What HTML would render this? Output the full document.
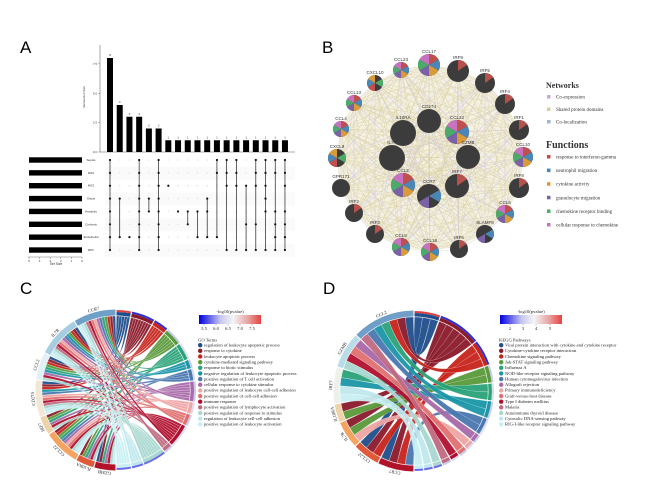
<!DOCTYPE html>
<html><head><meta charset="utf-8"><style>
html,body{margin:0;padding:0;background:#fff;width:669px;height:493px;overflow:hidden}
svg{display:block}
.pl{font-family:"Liberation Sans",sans-serif;font-size:17px}
.sm{font-family:"Liberation Sans",sans-serif;font-size:3px;fill:#333}
.nd{font-family:"Liberation Sans",sans-serif;font-size:4.5px;fill:#333}
.lg{font-family:"Liberation Serif",serif;font-size:5px;fill:#333}
.lt{font-family:"Liberation Serif",serif;font-size:4.6px;fill:#222}
</style></head><body>
<svg id="fig" width="669" height="493" viewBox="0 0 669 493" xmlns="http://www.w3.org/2000/svg">
<rect width="669" height="493" fill="#fff"/>
<text class="pl" x="20" y="53">A</text>
<text class="pl" x="322" y="53">B</text>
<text class="pl" x="20" y="294">C</text>
<text class="pl" x="323" y="294">D</text>
<g id="pa"></g>
<g id="pb"></g>
<g id="pc"></g>
<g id="pd"></g>
</svg>
<script>
const NS='http://www.w3.org/2000/svg';
function mk(p,t,a,txt){const e=document.createElementNS(NS,t);for(const k in a)e.setAttribute(k,a[k]);if(txt!==undefined)e.textContent=txt;p.appendChild(e);return e;}

// ---------- Panel A data ----------
const setNames=["Sepsis","MS2","MS3","Shock","Hepatitis","Cirrhosis","Endothelial","RPF"];
const setSizes=[5,5,5,5,5,5,5,5];
const interSizes=[8,4,3,3,2,2,1,1,1,1,1,1,1,1,1,1,1,1,1];
const interSets=[[0,1,2,3,4,5,6,7],[3,6],[6],[0,1,2,3,4,5,6,7],[3,4],[0,1,2,3,4,5,6,7],[2],[4],[4,5],[4,6],[3,4,6],[0,1,6],[0,1,2,7],[0,1,2,7],[2,5,7],[0,1,2,5,7],[0,1,2,3,4,7],[0,1,4,5,6,7],[0,1,2,4,5,6,7]];
const yTicksA=[0,2.5,5,7.5];

const pa=document.getElementById('pa');
const bx0=110,bstep=9.72,base=152,ppu=11.75;
const xA=i=>bx0+i*bstep, yA=v=>base-v*ppu;
const rowY=i=>160+i*12.86;
mk(pa,'line',{x1:100,y1:45,x2:100,y2:base,stroke:'#555','stroke-width':0.5});
mk(pa,'line',{x1:100,y1:base,x2:295,y2:base,stroke:'#555','stroke-width':0.5});
yTicksA.forEach(t=>{mk(pa,'line',{x1:98,y1:yA(t),x2:100,y2:yA(t),stroke:'#555','stroke-width':0.4});
 const e=mk(pa,'text',{class:'sm',x:97,y:yA(t)+1,'text-anchor':'end'},t.toFixed(1));});
const yt=mk(pa,'text',{class:'sm',x:85,y:97,'text-anchor':'middle',transform:'rotate(-90 85 97)'},'Intersection Size');

interSizes.forEach((v,i)=>{
 const r=mk(pa,'rect',{x:xA(i)-3,y:yA(v),width:6,height:v*ppu,fill:'#000'});
 
 mk(pa,'text',{class:'sm',x:xA(i),y:yA(v)-2,'text-anchor':'middle'},String(v));
});
setNames.forEach((n,i)=>{
 if(i%2===1)mk(pa,'rect',{x:105,y:rowY(i)-6,width:190,height:12.8,fill:'#fafafa'});
 const w=setSizes[i]/5*53;
 const b=mk(pa,'rect',{x:82-w,y:rowY(i)-2.7,width:w,height:5.4,fill:'#000'});
 
 mk(pa,'text',{class:'sm',x:91,y:rowY(i)+1,'text-anchor':'middle'},n);
 interSizes.forEach((v,j)=>mk(pa,'circle',{cx:xA(j),cy:rowY(i),r:0.8,fill:'#e4e4e4'}));
});
interSets.forEach((s,j)=>{
 const mn=Math.min(...s),mx=Math.max(...s);
 if(s.length>1)mk(pa,'line',{x1:xA(j),y1:rowY(mn),x2:xA(j),y2:rowY(mx),stroke:'#222','stroke-width':0.7});
 s.forEach(i=>{const c=mk(pa,'circle',{cx:xA(j),cy:rowY(i),r:1.1,fill:'#111'});
  });
});
mk(pa,'line',{x1:28,y1:257,x2:82,y2:257,stroke:'#555','stroke-width':0.4});
[0,1,2,3,4,5].forEach(t=>{const x=82-t/5*53;mk(pa,'line',{x1:x,y1:257,x2:x,y2:259,stroke:'#555','stroke-width':0.4});mk(pa,'text',{class:'sm',x:x,y:262,'text-anchor':'middle'},String(5-t===5?t:t));});
const st=mk(pa,'text',{class:'sm',x:56,y:265,'text-anchor':'middle',style:'font-size:3.4px'},'Set Size');


// ---------- Panel B ----------
const nodeNames=["CCL17","IRF9","IRF5","IRF4","IRF1","CCL10","IRF8","CCL5","SLAMF8","IRF6","CCL18","CCL8","IRF3","IRF2","GPR171","CXCL9","CCL4","CCL13","CXCL10","CCL23","CD274","IL10RA","CCL22","IL7R","GZMB","CCL2","IRF7","CCR7"];
const nodeX=[429,458,485,505,519,523,519,505,485,459,430,401,375,354,341,337,341,354,375,401,429,403,457,392,468,403,457,429];
const nodeY=[65,71,83,104,130,157,188,214,234,249,252,247,234,213,188,158,129,103,83,70,121,133,132,158,157,185,186,196];
const nodeR=[11,11,10,10,10,10,10,9,9,9,9,9,9,9,9,9,8,8,8,8,12,13,12,13,12,12,12,12];
const nodeType=["pie","irf","irf","irf","irf","pie","irf","pie","part","irf","pie","pie","irf","irf","dark","half","pie","pie","half","pie","dark","dark","pie","dark","dark","pie","irf","part"];
const funcColors=["#c0504d","#4a86b6","#d99a3a","#7b62a6","#4caa6a","#c773c0"];
const pb=document.getElementById('pb');
mk(pb,'circle',{cx:430,cy:158,r:92,fill:'#f4f1e2'});
for(let i=0;i<nodeNames.length;i++)for(let j=i+1;j<nodeNames.length;j++){
 if((i*7+j*3)%4===0)continue;
 mk(pb,'line',{x1:nodeX[i],y1:nodeY[i],x2:nodeX[j],y2:nodeY[j],stroke:((i+j)%5===0)?'#cfc6e6':'#ddd3a8','stroke-width':0.6,opacity:0.8});
}
function wedge(cx,cy,r,a0,a1){const p=a=>[cx+r*Math.sin(a*Math.PI/180),cy-r*Math.cos(a*Math.PI/180)];const s=p(a0),e=p(a1);return `M${cx},${cy}L${s[0]},${s[1]}A${r},${r} 0 ${a1-a0>180?1:0} 1 ${e[0]},${e[1]}Z`;}
nodeNames.forEach((n,i)=>{
 const g=mk(pb,'g',{});
 
 const x=nodeX[i],y=nodeY[i],r=nodeR[i],t=nodeType[i];
 mk(g,'circle',{cx:x,cy:y,r:r,fill:'#3c3c3c'});
 if(t==='pie'){funcColors.forEach((c,k)=>mk(g,'path',{d:wedge(x,y,r,k*60,(k+1)*60),fill:c}));}
 else if(t==='half'){[0,1,2,4].forEach(k=>mk(g,'path',{d:wedge(x,y,r,k*60+180,(k+1)*60+180),fill:funcColors[k]}));}
 else if(t==='part'){[1,3].forEach(k=>mk(g,'path',{d:wedge(x,y,r,k*60,(k+1)*60),fill:funcColors[k]}));}
 else if(t==='irf'){mk(g,'path',{d:wedge(x,y,r,0,55),fill:'#b8504c'});}
 else {mk(g,'circle',{cx:x,cy:y,r:r-0.5,fill:'none',stroke:'#555','stroke-width':0.3,'stroke-dasharray':'0.6 0.6'});}
 mk(pb,'text',{class:'nd',x:x,y:y-r-1.2,'text-anchor':'middle'},n);
});
const netLbl=["Co-expression","Shared protein domains","Co-localization"],netCol=["#c9a6d6","#d7cf9b","#9fb5d3"];
const funcLbl=["response to interferon-gamma","neutrophil migration","cytokine activity","granulocyte migration","chemokine receptor binding","cellular response to chemokine"];
mk(pb,'text',{x:546,y:88,style:'font-family:"Liberation Serif",serif;font-size:8px;font-weight:bold;fill:#333'},'Networks');
netLbl.forEach((l,k)=>{const y=98+k*12.5;const g=mk(pb,'g',{});
 mk(g,'rect',{x:547,y:y-3,width:3.5,height:3.5,fill:netCol[k]});mk(g,'text',{class:'lg',x:556,y:y+0.5},l);});
mk(pb,'text',{x:546,y:148,style:'font-family:"Liberation Serif",serif;font-size:10px;font-weight:bold;fill:#333'},'Functions');
funcLbl.forEach((l,k)=>{const y=158+k*13.6;const g=mk(pb,'g',{});
 mk(g,'rect',{x:547,y:y-3,width:3.5,height:3.5,fill:funcColors[k]});mk(g,'text',{class:'lg',x:556,y:y+0.5},l);});

// ---------- Chord data ----------
const termColors=["#1f4e8c","#8b1a2b","#c8241c","#5a9a3a","#2aa37a","#1b96a8","#4a78b0","#a86aa8","#f0a5a5","#e07070","#b01030","#c06a80","#a8d8d0","#bfe8ee","#c8f0f4"];
const goTerms=["regulation of leukocyte apoptotic process","response to cytokine","leukocyte apoptotic process","cytokine-mediated signaling pathway","response to biotic stimulus","negative regulation of leukocyte apoptotic process","positive regulation of T cell activation","cellular response to cytokine stimulus","positive regulation of leukocyte cell-cell adhesion","positive regulation of cell-cell adhesion","immune response","positive regulation of lymphocyte activation","positive regulation of response to stimulus","regulation of leukocyte cell-cell adhesion","positive regulation of leukocyte activation"];
const goGenes=["GZMB","IL10RA","CCL22","IRF7","CD274","CCL2","IL7R","CCR7"];
const goGeneColors=["#b0132a","#e05a3a","#f4a460","#f0d2a8","#f2e6d6","#e0f0f4","#a6cde0","#6fa0c8"];
const goMatrix=[
[1,1,0,0,1,0,0,1,0,0,1,0,1,0,1],
[0,1,0,1,1,0,0,1,0,0,1,0,1,0,0],
[0,1,1,1,1,0,1,1,1,1,1,0,1,1,1],
[0,1,0,1,1,0,0,1,0,0,1,0,1,0,0],
[1,1,1,0,0,1,1,0,1,1,1,1,1,1,1],
[1,1,1,1,1,1,0,1,0,0,1,0,1,0,0],
[1,1,1,1,0,1,1,1,1,1,1,1,1,1,1],
[1,1,1,1,1,0,1,1,1,1,1,1,1,1,1]];
const keggTerms=["Viral protein interaction with cytokine and cytokine receptor","Cytokine-cytokine receptor interaction","Chemokine signaling pathway","Jak-STAT signaling pathway","Influenza A","NOD-like receptor signaling pathway","Human cytomegalovirus infection","Allograft rejection","Primary immunodeficiency","Graft-versus-host disease","Type I diabetes mellitus","Malaria","Autoimmune thyroid disease","Cytosolic DNA-sensing pathway","RIG-I-like receptor signaling pathway"];
const keggGenes=["CCR7","CCL22","IL7R","IL10RA","IRF7","GZMB","CCL2"];
const keggGeneColors=["#b0132a","#e05a3a","#f4a460","#f0d2a8","#eef0ea","#b8dde8","#6f9fc8"];
const keggMatrix=[
[1,1,1,0,0,0,1,0,0,0,0,0,0,0,0],
[1,1,1,0,0,0,0,0,0,0,0,0,0,0,0],
[0,1,0,1,0,0,0,0,1,0,0,0,0,0,0],
[0,1,0,1,0,0,0,0,0,0,0,0,0,0,0],
[0,0,0,0,1,1,0,0,0,0,0,0,0,1,1],
[0,0,0,0,0,0,0,1,0,1,1,0,1,0,0],
[1,1,1,0,1,1,1,0,0,0,0,1,0,0,0]];

function chord(g,cx,cy,r,genes,gcol,terms,matrix,bar,barTicks,legTitle,lx,ly){
 const P=(a,rr)=>[cx+rr*Math.sin(a*Math.PI/180),cy-rr*Math.cos(a*Math.PI/180)];
 const gap=0.8;
 const tCount=terms.map((t,j)=>matrix.reduce((s,row)=>s+row[j],0));
 const gCount=genes.map((gn,i)=>matrix[i].reduce((s,v)=>s+v,0));
 const tot=tCount.reduce((a,b)=>a+b,0);
 const tu=(180-gap*terms.length)/tot, gu=(180-gap*genes.length)/tot;
 const tStart=[],gStart=[];let a=gap/2;
 tCount.forEach((c,j)=>{tStart.push(a);a+=c*tu+gap;});
 a=180+gap/2;gCount.forEach((c,i)=>{gStart.push(a);a+=c*gu+gap;});
 const tPos=tStart.slice(),gPos=gStart.slice();
 const links=[];
 matrix.forEach((row,i)=>row.forEach((v,j)=>{if(v)links.push([i,j]);}));
 // order on gene side by term reversed for less crossing
 const ri=r-4;
 const segs=[];
 for(let i=0;i<genes.length;i++){for(let j=terms.length-1;j>=0;j--){if(matrix[i][j]){segs.push([i,j,gPos[i]]);gPos[i]+=gu;}}}
 segs.forEach(([i,j,g0])=>{
  const t0=tPos[j];tPos[j]+=tu;
  const g1=g0+gu,t1=t0+tu;
  const A=P(g0,ri),B=P(g1,ri),C=P(t0,ri),D=P(t1,ri);
  const d=`M${A}A${ri},${ri} 0 0 1 ${B}Q${cx},${cy} ${C}A${ri},${ri} 0 0 1 ${D}Q${cx},${cy} ${A}Z`;
  const p=mk(g,'path',{d:d,fill:termColors[j],stroke:'#fff','stroke-width':0.25,opacity:0.95});
  
 });
 const arc=(a0,a1,r0,r1,fill,name)=>{const A=P(a0,r1),B=P(a1,r1),C=P(a1,r0),D=P(a0,r0);
  const e=mk(g,'path',{d:`M${A}A${r1},${r1} 0 ${a1-a0>180?1:0} 1 ${B}L${C}A${r0},${r0} 0 ${a1-a0>180?1:0} 0 ${D}Z`,fill:fill});
  };
 terms.forEach((t,j)=>{arc(tStart[j],tStart[j]+tCount[j]*tu,r-3.5,r,termColors[j],'term-arc');});
 // pvalue ring on term side (gradient-ish)
 const pr=['#3f4fe0','#c8c8f0','#f0f0f8','#e8a0a0','#e06060'];
 terms.forEach((t,j)=>{const c=j<3?'#2f2fd0':(j>11?'#6a6ae8':(j%2?'#c9c9ee':'#dcdcf2'));
  arc(tStart[j],tStart[j]+tCount[j]*tu,r,r+2,j===0?'#e04040':c,'pvalue-arc');});
 genes.forEach((gn,i)=>{const a0=gStart[i],a1=gStart[i]+gCount[i]*gu;
  arc(a0,a1,r-3.5,r+2.5,gcol[i],'gene-arc');
  const am=(a0+a1)/2,p=P(am,r+5);let rot=am-360+(am>270?0:0);
  let rr=am+180; const tx=mk(g,'text',{class:'lt',x:p[0],y:p[1],'text-anchor':'middle','dominant-baseline':'middle',transform:`rotate(${am<270?am-180+180:am} ${p[0]} ${p[1]})`},gn);
  
 });
 // colorbar
 const gid='grad'+lx;
 const defs=mk(g,'defs',{});const lg=mk(defs,'linearGradient',{id:gid,x1:0,x2:1,y1:0,y2:0});
 [['0','#0000e0'],['0.35','#c8c8f0'],['0.55','#f4f4f4'],['0.8','#e8a0a0'],['1','#e84040']].forEach(([o,c])=>mk(lg,'stop',{offset:o,'stop-color':c}));
 mk(g,'text',{class:'lt',x:lx+31,y:ly-2,'text-anchor':'middle'},'-log10(pvalue)');
 const cb=mk(g,'rect',{x:lx,y:ly,width:62,height:9,fill:`url(#${gid})`});
 
 barTicks.forEach((t,k)=>{const x=lx+bar[k];mk(g,'line',{x1:x,y1:ly+9,x2:x,y2:ly+10.5,stroke:'#333','stroke-width':0.3});mk(g,'text',{class:'lt',x:x,y:ly+15,'text-anchor':'middle'},t);});
 mk(g,'text',{class:'lt',x:lx-1,y:ly+26.5},legTitle);
 terms.forEach((t,j)=>{const y=ly+31.5+j*5.65;const e=mk(g,'g',{});
  mk(e,'circle',{cx:lx+1.2,cy:y-1.3,r:2.2,fill:termColors[j]});mk(e,'text',{class:'lt',x:lx+5,y:y},t);});
}
chord(document.getElementById('pc'),116,390,78,goGenes,goGeneColors,goTerms,goMatrix,[5,17,29,41,53],['5.5','6.0','6.5','7.0','7.5'],'GO Terms',199,315);
chord(document.getElementById('pd'),414,391,78,keggGenes,keggGeneColors,keggTerms,keggMatrix,[10,23,36,50],['2','3','4','5'],'KEGG Pathways',500,315);
</script>
</body></html>
